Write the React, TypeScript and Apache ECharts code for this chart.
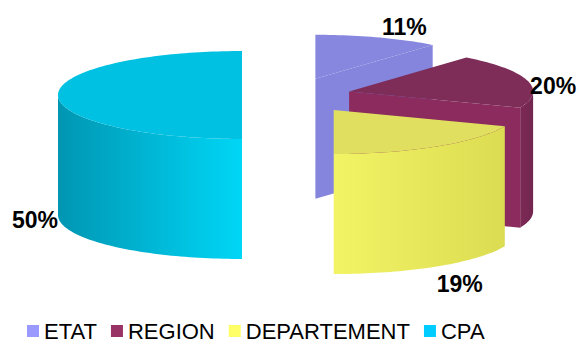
import React, { useEffect, useRef } from "react";
import * as echarts from "echarts";

const categories = ["ETAT", "REGION", "DEPARTEMENT", "CPA"];
const values = [11, 20, 19, 50];
const labelTexts = ["11%", "20%", "19%", "50%"];

const legendColors = ["#9999ff", "#993366", "#ffff66", "#00ccff"];
const topColors = ["#8787df", "#7e2c58", "#e0df5f", "#00c1e1"];
const cutColors = ["#8585de", "#8b2b5e", "#e6e45a", "#00b8d8"];
const sideLeft = ["#8080d8", "#7d2a55", "#f3f366", "#0096b2"];
const sideRight = ["#8585de", "#722650", "#dcdc52", "#00d6f6"];

const CX = 291;
const CY = 95;
const RX = 184;
const RY = 44;
const H = 120;
const explode = [72, 60, 76, 49];
const labelOffsets = [
  [89, -52],
  [204, -5],
  [126, 174],
  [-207, 125],
];

const total = values.reduce((a, b) => a + b, 0);
const starts: number[] = [];
const ends: number[] = [];
{
  let acc = 0;
  values.forEach((v) => {
    starts.push((acc / total) * 360);
    acc += v;
    ends.push((acc / total) * 360);
  });
}

const rad = (d: number) => (d * Math.PI) / 180;

function makeRender(i: number) {
  return (_params: any, _api: any) => {
    const a0 = starts[i];
    const a1 = ends[i];
    const m = rad((a0 + a1) / 2);
    const ax = CX + explode[i] * Math.sin(m);
    const ay = CY - explode[i] * Math.cos(m) * (RY / RX);
    const P = (deg: number) => [ax + RX * Math.sin(rad(deg)), ay - RY * Math.cos(rad(deg))];
    const arc = (from: number, to: number) => {
      const n = Math.max(2, Math.ceil(Math.abs(to - from) / 1.5));
      const pts: number[][] = [];
      for (let k = 0; k <= n; k++) pts.push(P(from + ((to - from) * k) / n));
      return pts;
    };
    const down = (p: number[]) => [p[0], p[1] + H];
    const A = [ax, ay];
    const children: any[] = [];

    if (Math.sin(rad(a0)) < -1e-6) {
      const p = P(a0);
      children.push({
        type: "polygon",
        shape: { points: [A, p, down(p), down(A)] },
        style: { fill: cutColors[i] },
      });
    }
    if (Math.sin(rad(a1)) > 1e-6) {
      const p = P(a1);
      children.push({
        type: "polygon",
        shape: { points: [A, p, down(p), down(A)] },
        style: { fill: cutColors[i] },
      });
    }
    const s0 = Math.max(a0, 90);
    const s1 = Math.min(a1, 270);
    if (s1 > s0) {
      const topArc = arc(s0, s1);
      const botArc = arc(s1, s0).map(down);
      children.push({
        type: "polygon",
        shape: { points: topArc.concat(botArc) },
        style: {
          fill: new echarts.graphic.LinearGradient(0, 0, 1, 0, [
            { offset: 0, color: sideLeft[i] },
            { offset: 1, color: sideRight[i] },
          ]),
        },
      });
    }
    children.push({
      type: "polygon",
      shape: { points: [A].concat(arc(a0, a1)) },
      style: { fill: topColors[i] },
    });
    children.push({
      type: "text",
      x: ax + labelOffsets[i][0],
      y: ay + labelOffsets[i][1],
      z2: 10,
      style: {
        text: labelTexts[i],
        fill: "#000",
        font: "bold 23px 'Liberation Sans', Arial, sans-serif",
        align: "center",
        verticalAlign: "middle",
      },
    });
    return { type: "group", children };
  };
}

export default function App() {
  const ref = useRef<HTMLDivElement>(null);
  useEffect(() => {
    if (!ref.current) return;
    const chart = echarts.init(ref.current, null, { renderer: "svg" });
    chart.setOption({
      animation: false,
      legend: {
        data: categories,
        left: 22,
        top: 315,
        icon: "rect",
        itemWidth: 12,
        itemHeight: 12,
        itemGap: 14,
        selectedMode: false,
        textStyle: {
          fontSize: 22,
          fontFamily: "'Liberation Sans', Arial, sans-serif",
          color: "#000",
        },
      },
      series: categories.map((name, i) => ({
        type: "custom",
        name,
        coordinateSystem: "none",
        silent: true,
        itemStyle: { color: legendColors[i] },
        data: [[values[i]]],
        renderItem: makeRender(i),
      })),
    });
    return () => chart.dispose();
  }, []);
  return (
    <div
      ref={ref}
      style={{ position: "absolute", left: 0, top: 0, width: 579, height: 347, background: "#fff" }}
    />
  );
}
